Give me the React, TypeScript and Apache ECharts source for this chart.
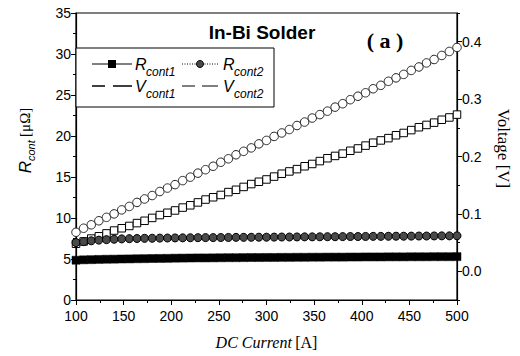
import React, { useEffect, useRef } from "react";
import * as echarts from "echarts";

const current = [100, 108, 116, 124, 132, 140, 148, 156, 164, 172, 180, 188, 196, 204, 212, 220, 228, 236, 244, 252, 260, 268, 276, 284, 292, 300, 308, 316, 324, 332, 340, 348, 356, 364, 372, 380, 388, 396, 404, 412, 420, 428, 436, 444, 452, 460, 468, 476, 484, 492, 500];

const rCont1 = [4.85, 4.9, 4.92, 4.95, 4.97, 4.98, 5.0, 5.01, 5.03, 5.04, 5.06, 5.07, 5.08, 5.1, 5.11, 5.12, 5.13, 5.13, 5.14, 5.15, 5.16, 5.16, 5.17, 5.18, 5.18, 5.19, 5.19, 5.2, 5.2, 5.21, 5.21, 5.22, 5.22, 5.23, 5.23, 5.23, 5.24, 5.24, 5.25, 5.25, 5.25, 5.26, 5.26, 5.26, 5.27, 5.27, 5.27, 5.28, 5.28, 5.28, 5.29];

const rCont2 = [7.0, 7.12, 7.22, 7.3, 7.36, 7.41, 7.45, 7.48, 7.5, 7.52, 7.53, 7.55, 7.56, 7.57, 7.58, 7.59, 7.6, 7.61, 7.61, 7.62, 7.63, 7.64, 7.64, 7.65, 7.66, 7.66, 7.67, 7.68, 7.68, 7.69, 7.7, 7.7, 7.71, 7.72, 7.72, 7.73, 7.74, 7.74, 7.75, 7.76, 7.76, 7.77, 7.78, 7.78, 7.79, 7.8, 7.8, 7.81, 7.82, 7.82, 7.83];

const vCont1 = [0.048, 0.052, 0.057, 0.061, 0.066, 0.071, 0.075, 0.079, 0.084, 0.088, 0.093, 0.098, 0.102, 0.106, 0.111, 0.115, 0.12, 0.125, 0.129, 0.133, 0.138, 0.142, 0.147, 0.152, 0.156, 0.16, 0.165, 0.17, 0.174, 0.178, 0.183, 0.187, 0.192, 0.197, 0.201, 0.205, 0.21, 0.214, 0.219, 0.224, 0.228, 0.232, 0.237, 0.241, 0.246, 0.251, 0.255, 0.259, 0.264, 0.268, 0.273];

const vCont2 = [0.068, 0.075, 0.081, 0.088, 0.094, 0.1, 0.107, 0.113, 0.12, 0.126, 0.132, 0.139, 0.145, 0.151, 0.158, 0.164, 0.171, 0.177, 0.183, 0.19, 0.196, 0.203, 0.209, 0.215, 0.222, 0.228, 0.235, 0.241, 0.247, 0.254, 0.26, 0.267, 0.273, 0.279, 0.286, 0.292, 0.299, 0.305, 0.311, 0.318, 0.324, 0.331, 0.337, 0.343, 0.35, 0.356, 0.363, 0.369, 0.376, 0.383, 0.39];

const voltageLabels = [0, 0.1, 0.2, 0.3, 0.4];
const voltageMinorTicks = [-0.05, 0.05, 0.15, 0.25, 0.35, 0.45];

const SANS = "'Liberation Sans', Arial, sans-serif";
const SERIF = "'Liberation Serif', 'Times New Roman', serif";

const pairs = (ys: number[]) => current.map((x, i) => [x, ys[i]]);

export default function App() {
  const ref = useRef<HTMLDivElement>(null);
  useEffect(() => {
    if (!ref.current) return;
    const chart = echarts.init(ref.current, null, { renderer: "svg" });
    const axisCommon = {
      axisLine: { show: true, lineStyle: { color: "#000", width: 1.2 } },
      axisTick: { show: true, inside: false, length: 5, lineStyle: { color: "#000", width: 1 } },
      minorTick: { show: true, splitNumber: 2, length: 3, lineStyle: { color: "#000", width: 1 } },
      splitLine: { show: false },
    };
    const labelStyle = { color: "#000", fontFamily: SANS, fontSize: 14 };
    const legendY1 = 64;
    const legendY2 = 86;
    const legendText = (x: number, y: number, main: string, sub: string) => [
      {
        type: "text",
        x,
        y,
        z: 12,
        style: { text: main, font: `italic 16px ${SANS}`, fill: "#000", textVerticalAlign: "middle" },
      },
      {
        type: "text",
        x: x + 11,
        y: y + 2,
        z: 12,
        style: { text: sub, font: `italic 12px ${SANS}`, fill: "#000", textVerticalAlign: "top" },
      },
    ];
    const seg = (x1: number, x2: number, y: number, w: number, dash?: number[]) => ({
      type: "line",
      z: 12,
      shape: { x1, y1: y, x2, y2: y },
      style: dash ? { stroke: "#000", lineWidth: w, lineDash: dash } : { stroke: "#000", lineWidth: w },
    });
    chart.setOption({
      animation: false,
      backgroundColor: "#fff",
      grid: { left: 76, right: 60, top: 13, bottom: 56, show: true, borderColor: "#000", borderWidth: 1.2, containLabel: false },
      xAxis: {
        type: "value",
        min: 100,
        max: 500,
        interval: 50,
        ...axisCommon,
        axisLabel: { ...labelStyle, margin: 9 },
        name: "{i|DC Current} {n|[A]}",
        nameLocation: "middle",
        nameGap: 34,
        nameTextStyle: {
          rich: {
            i: { fontFamily: SERIF, fontStyle: "italic", fontSize: 16, color: "#000" },
            n: { fontFamily: SERIF, fontSize: 16, color: "#000" },
          },
        },
      },
      yAxis: [
        {
          type: "value",
          min: 0,
          max: 35,
          interval: 5,
          ...axisCommon,
          axisLabel: { ...labelStyle, margin: 5 },
          name: "{r|R}{s|cont} {n|[μΩ]}",
          nameLocation: "middle",
          nameGap: 40,
          nameRotate: 90,
          nameTextStyle: {
            padding: [0, 0, 0, 32],
            rich: {
              r: { fontFamily: SANS, fontStyle: "italic", fontSize: 17, color: "#000", lineHeight: 22, verticalAlign: "middle" },
              s: { fontFamily: SANS, fontStyle: "italic", fontSize: 11, color: "#000", verticalAlign: "bottom", lineHeight: 22 },
              n: { fontFamily: SERIF, fontSize: 15, color: "#000", verticalAlign: "middle", lineHeight: 22 },
            },
          },
        },
        {
          type: "value",
          position: "right",
          min: -0.05,
          max: 0.45,
          interval: 0.05,
          axisLine: { show: true, lineStyle: { color: "#000", width: 1.2 } },
          axisTick: { show: true, length: 5, customValues: voltageLabels, lineStyle: { color: "#000", width: 1 } },
          splitLine: { show: false },
          axisLabel: {
            ...labelStyle,
            margin: 5,
            customValues: voltageLabels,
            formatter: (v: number) => v.toFixed(1),
          },
          name: "Voltage [V]",
          nameLocation: "middle",
          nameGap: 38,
          nameRotate: -90,
          nameTextStyle: { fontFamily: SERIF, fontSize: 17, color: "#000", padding: [0, 16, 0, 0] },
        },
        {
          type: "value",
          position: "right",
          min: -0.05,
          max: 0.45,
          interval: 0.05,
          axisLine: { show: false },
          axisTick: { show: true, length: 3, customValues: voltageMinorTicks, lineStyle: { color: "#000", width: 1 } },
          splitLine: { show: false },
          axisLabel: { show: false },
        },
      ],
      series: [
        {
          name: "Rcont1",
          type: "line",
          yAxisIndex: 0,
          data: pairs(rCont1),
          symbol: "rect",
          symbolSize: [8, 8],
          lineStyle: { color: "#000", width: 1 },
          itemStyle: { color: "#000", borderColor: "#000", borderWidth: 0.5 },
        },
        {
          name: "Rcont2",
          type: "line",
          yAxisIndex: 0,
          data: pairs(rCont2),
          symbol: "circle",
          symbolSize: 8,
          lineStyle: { color: "#000", width: 1 },
          itemStyle: { color: "#4a4a4a", borderColor: "#000", borderWidth: 1 },
        },
        {
          name: "Vcont1",
          type: "scatter",
          yAxisIndex: 1,
          data: pairs(vCont1),
          symbol: "rect",
          symbolSize: 7.5,
          itemStyle: { color: "#fff", borderColor: "#000", borderWidth: 1, opacity: 1 },
        },
        {
          name: "Vcont2",
          type: "scatter",
          yAxisIndex: 1,
          data: pairs(vCont2),
          symbol: "circle",
          symbolSize: 8.5,
          itemStyle: { color: "#fff", borderColor: "#222", borderWidth: 1, opacity: 1 },
        },
      ],
      graphic: [
        {
          type: "text",
          x: 262,
          y: 32,
          style: { text: "In-Bi Solder", font: `bold 19px ${SANS}`, fill: "#000", textAlign: "center", textVerticalAlign: "middle" },
        },
        {
          type: "text",
          x: 385,
          y: 40,
          style: { text: "( a )", font: `bold 22px ${SERIF}`, fill: "#000", textAlign: "center", textVerticalAlign: "middle" },
        },
        {
          type: "rect",
          z: 10,
          shape: { x: 76, y: 48, width: 198, height: 59 },
          style: { fill: "#fff", stroke: "#000", lineWidth: 1 },
        },
        seg(92, 132, legendY1, 1),
        { type: "rect", z: 12, shape: { x: 108, y: legendY1 - 4, width: 8, height: 8 }, style: { fill: "#000" } },
        ...legendText(135, legendY1, "R", "cont1"),
        seg(182, 218, legendY1, 1, [1, 1.5]),
        { type: "circle", z: 12, shape: { cx: 200, cy: legendY1, r: 3.5 }, style: { fill: "#4a4a4a", stroke: "#000", lineWidth: 1 } },
        ...legendText(223, legendY1, "R", "cont2"),
        seg(92, 105, legendY2, 1.5),
        seg(113, 132, legendY2, 1.5),
        ...legendText(135, legendY2, "V", "cont1"),
        seg(182, 195, legendY2, 1),
        seg(202, 218, legendY2, 1),
        ...legendText(223, legendY2, "V", "cont2"),
      ],
    });
    return () => chart.dispose();
  }, []);
  return <div ref={ref} style={{ position: "fixed", left: 0, top: 0, width: 520, height: 356, background: "#fff" }} />;
}
